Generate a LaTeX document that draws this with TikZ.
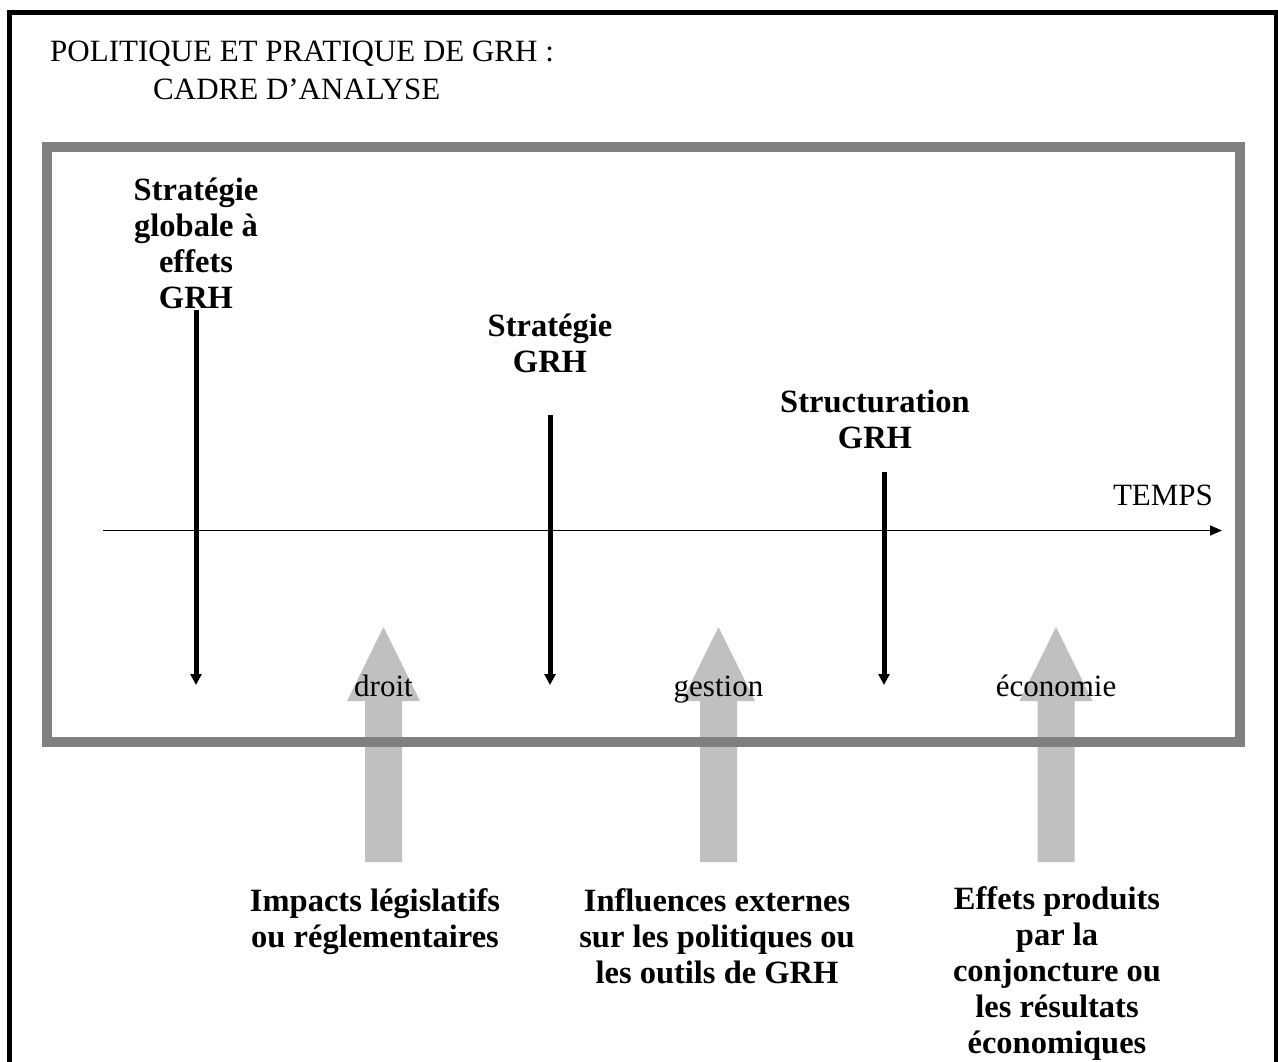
\documentclass[tikz,border=0pt]{standalone}
\usepackage{fontspec}
\setmainfont{Liberation Serif}
\usetikzlibrary{arrows.meta}
\definecolor{framegrey}{HTML}{808080}
\definecolor{arrowgrey}{HTML}{C0C0C0}
\begin{document}
\begin{tikzpicture}[x=1pt,y=-1pt,
  reg/.style={font=\fontsize{31}{38}\selectfont, inner sep=0pt, anchor=base},
  bld/.style={font=\fontsize{32.5}{36}\selectfont\bfseries, inner sep=0pt, anchor=base, align=center},
  downarrow/.style={line width=5pt, -{Triangle[length=11pt,width=11pt]}},
  timeline/.style={line width=1.5pt, -{Triangle[length=12pt,width=10pt]}},
  greyarrow/.style={fill=arrowgrey},
  outerframe/.style={line width=5pt, draw=black},
  innerframe/.style={line width=10pt, draw=framegrey}]
\useasboundingbox (0,0) rectangle (1278,1062);
% outer frame (bottom edge falls outside the page)
\draw[outerframe] (9.8,1080) -- (9.8,12.5) -- (1276,12.5) -- (1276,1080);
% grey upward arrows
\foreach \c in {383.5,718.5,1056}{
  \fill[greyarrow] (\c-18.5,862) -- (\c-18.5,701) -- (\c-36.5,701) -- (\c,627)
    -- (\c+36.5,701) -- (\c+18.5,701) -- (\c+18.5,862) -- cycle;
}
% inner grey frame
\draw[innerframe] (46.7,146.7) rectangle (1240,742);
% title (anchor = baseline of its last line)
\node[reg, anchor=base west, align=left] (title) at (50,100)
  {POLITIQUE ET PRATIQUE DE GRH :\\\hspace*{103pt}CADRE D’ANALYSE};
% time line
\coordinate (t0) at (103,530.5);
\coordinate (t1) at (1222,530.5);
\draw[timeline] (t0) -- (t1);
\node[reg] (temps) at (1163,505) {TEMPS};
% strategy labels (anchor = baseline of last line)
\node[bld] (s1) at (196,308) {Stratégie\\globale à\\effets\\GRH};
\node[bld] (s2) at (550,372.5) {Stratégie\\GRH};
\node[bld] (s3) at (875,448) {Structuration\\GRH};
\coordinate (a1s) at (196,310);
\coordinate (a1e) at (196,685);
\coordinate (a2s) at (550,415);
\coordinate (a2e) at (550,685);
\coordinate (a3s) at (884,472);
\coordinate (a3e) at (884,685);
\draw[downarrow] (a1s) -- (a1e);
\draw[downarrow] (a2s) -- (a2e);
\draw[downarrow] (a3s) -- (a3e);
% domain labels
\node[reg] (droit) at (383.5,696) {droit};
\node[reg] (gestion) at (718.5,696) {gestion};
\node[reg] (eco) at (1056,696) {économie};
% bottom labels (anchor = baseline of last line)
\node[bld] (b1) at (375,947) {Impacts législatifs\\ou réglementaires};
\node[bld] (b2) at (717,983) {Influences externes\\sur les politiques ou\\les outils de GRH};
\node[bld] (b3) at (1057,1053) {Effets produits\\par la\\conjoncture ou\\les résultats\\économiques};
\end{tikzpicture}
\end{document}
